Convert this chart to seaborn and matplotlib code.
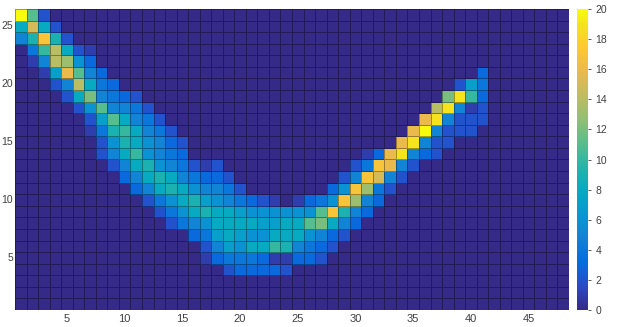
import numpy as np
import pandas as pd
import seaborn as sns
import matplotlib.pyplot as plt
from matplotlib.colors import LinearSegmentedColormap

# =============================
# Data (counts per cell, y = 26 .. 3 from top)
# =============================
n_cols = 48
n_rows = 26
rows_y = list(range(26, 2, -1))

# descending left arm + flat bottom (first column index, values)
left_start = [1, 1, 1, 2, 2, 3, 4, 5, 6, 7, 7, 8, 8, 9, 10, 11, 12, 13, 14, 16, 17, 17, 19, 0]
left_vals = [
    [20, 11, 2],
    [8, 15, 8, 2],
    [5, 9, 17, 9, 2],
    [4, 10, 14, 8, 2, 1],
    [1, 5, 14, 13, 6, 3],
    [1, 7, 16, 11, 5, 3],
    [2, 5, 14, 8, 4, 3],
    [2, 8, 12, 5, 4, 3, 2],
    [2, 6, 11, 5, 5, 4, 2],
    [2, 7, 11, 8, 5, 4, 2],
    [1, 4, 9, 10, 8, 5, 4, 2],
    [2, 6, 9, 8, 6, 5, 3, 2],
    [2, 5, 8, 10, 6, 5, 4, 3],
    [2, 5, 8, 9, 6, 5, 4, 2, 1, 2],
    [3, 5, 8, 9, 8, 5, 4, 3, 3, 2],
    [3, 5, 8, 9, 8, 6, 5, 5, 4, 2],
    [2, 4, 6, 8, 9, 7, 6, 5, 4, 3, 2, 1, 0, 1, 3, 4],
    [2, 4, 6, 8, 9, 8, 8, 7, 6, 6, 6, 6, 6, 6, 11],
    [2, 4, 5, 6, 8, 8, 8, 8, 7, 7, 8, 8, 11, 12],
    [3, 4, 7, 8, 7, 6, 6, 8, 8, 8, 6, 5],
    [2, 5, 7, 6, 8, 8, 10, 9, 5, 4, 3],
    [1, 3, 4, 4, 4, 3, 1, 1, 3, 3, 2],
    [2, 3, 3, 3, 3, 2],
    [],
]

# rising right arm
right_start = [0, 0, 0, 0, 0, 41, 39, 38, 37, 36, 35, 34, 31, 30, 29, 28, 28, 28, 28, 28, 28, 0, 0, 0]
right_vals = [
    [], [], [], [], [],
    [3],
    [2, 7, 4],
    [12, 19, 10, 3],
    [14, 19, 5, 1, 2],
    [16, 19, 5, 2, 2, 2],
    [16, 20, 5, 2, 2, 2],
    [16, 19, 5, 2, 2],
    [1, 3, 16, 19, 5, 3, 2],
    [2, 4, 17, 16, 5, 2],
    [2, 5, 17, 15, 5, 2],
    [3, 6, 17, 13, 4, 2],
    [6, 17, 13, 5, 3],
    [17, 9, 5, 3],
    [8, 5, 3],
    [3, 2],
    [2],
    [], [], [],
]

x_ticks = [5, 10, 15, 20, 25, 30, 35, 40, 45]
y_ticks = [5, 10, 15, 20, 25]
cbar_ticks = list(range(0, 21, 2))

# =============================
# Build grid
# =============================
grid = np.zeros((n_rows, n_cols))
for y, s, v in zip(rows_y, left_start, left_vals):
    if v:
        grid[y - 1, s - 1:s - 1 + len(v)] += v
for y, s, v in zip(rows_y, right_start, right_vals):
    if v:
        grid[y - 1, s - 1:s - 1 + len(v)] += v

df = pd.DataFrame(grid, index=range(1, n_rows + 1), columns=range(1, n_cols + 1))

# parula-like colormap (every 5th entry of the 64-colour table)
parula_idx = [0, 5, 10, 15, 20, 25, 30, 35, 40, 45, 50, 55, 60, 63]
parula_rgb = [
    (0.2081, 0.1663, 0.5292), (0.1707, 0.2919, 0.7792), (0.0165, 0.4266, 0.8786),
    (0.0779, 0.5040, 0.8384), (0.0343, 0.5966, 0.8199), (0.0267, 0.6642, 0.7607),
    (0.1453, 0.7098, 0.6646), (0.3482, 0.7424, 0.5473), (0.5709, 0.7485, 0.4494),
    (0.7525, 0.7384, 0.3768), (0.9139, 0.7258, 0.3063), (0.9955, 0.7861, 0.1967),
    (0.9589, 0.8949, 0.1132), (0.9763, 0.9831, 0.0538),
]
parula = LinearSegmentedColormap.from_list(
    "parula", [(i / 63, c) for i, c in zip(parula_idx, parula_rgb)])

# =============================
# Plot
# =============================
plt.rcParams['font.family'] = ['Liberation Sans', 'DejaVu Sans']
fig = plt.figure(figsize=(6.17, 3.27), dpi=100)
ax = fig.add_axes([15 / 617, 17 / 327, 554 / 617, 301 / 327])
cax = fig.add_axes([577 / 617, 17 / 327, 11 / 617, 301 / 327])

sns.heatmap(df, cmap=parula, vmin=0, vmax=20, linewidths=0.5,
            linecolor=(0, 0, 0, 0.35), ax=ax, cbar_ax=cax,
            cbar_kws={"ticks": cbar_ticks})
ax.invert_yaxis()

ax.set_xticks([t - 0.5 for t in x_ticks])
ax.set_xticklabels(x_ticks, rotation=0)
ax.set_yticks([t - 0.5 for t in y_ticks])
ax.set_yticklabels(y_ticks, rotation=0)
ax.set_xlabel("")
ax.set_ylabel("")
ax.tick_params(axis="x", length=0, labelsize=8, labelcolor="#404040", pad=3)
ax.tick_params(axis="y", length=0, labelsize=7.5, labelcolor="#404040", pad=1.5)

cax.tick_params(length=2, width=0.6, labelsize=7.5, labelcolor="#404040", color="#404040")
for s in cax.spines.values():
    s.set_visible(False)

fig.savefig("out.png", dpi=100)
